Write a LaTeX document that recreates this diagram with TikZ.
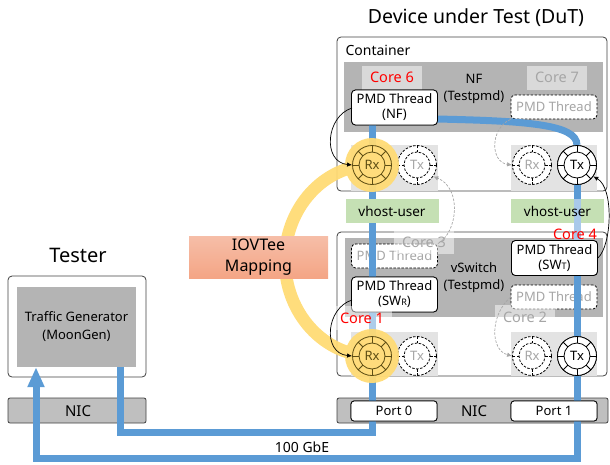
\documentclass[tikz,border=0pt]{standalone}
\usepackage{fontspec}
\setmainfont{Noto Sans}
\usetikzlibrary{arrows.meta}
\definecolor{frameline}{HTML}{404040}
\definecolor{areagray}{HTML}{B4B4B4}
\definecolor{portgray}{HTML}{E3E3E3}
\definecolor{nicgray}{HTML}{BFBFBF}
\definecolor{linkblue}{HTML}{5B9BD5}
\definecolor{paleblue}{HTML}{A9C9EA}
\definecolor{vhgreen}{HTML}{C5E0B4}
\definecolor{hiyellow}{HTML}{FFDB75}
\definecolor{olive}{HTML}{5E4E14}
\definecolor{idlegray}{HTML}{A6A6A6}
\definecolor{coreRed}{HTML}{FF0000}
\definecolor{salmonTop}{HTML}{F6BEA8}
\definecolor{salmonBot}{HTML}{F4A585}
\newcommand{\fs}[2]{\fontsize{#1pt}{#2pt}\selectfont}
\begin{document}
\begin{tikzpicture}[x=1pt,y=-1pt,
  frame/.style={draw=frameline,line width=0.8pt,rounded corners=4pt},
  area/.style={fill=areagray},
  pmd/.style={draw=black,fill=white,line width=0.8pt,rounded corners=4pt,
    minimum width=86pt,minimum height=35pt,inner sep=0pt,align=center,
    font={\fs{13}{15}}},
  pmdidle/.style={draw=black,fill=white,line width=0.8pt,rounded corners=4pt,
    dash pattern=on 2.5pt off 1.5pt,minimum width=86pt,minimum height=24pt,
    inner sep=0pt,text=idlegray,font={\fs{13}{15}}},
  coretag/.style={fill=white,fill opacity=0.5,text opacity=1,minimum width=60pt,
    minimum height=24pt,inner sep=0pt,font={\fs{14.5}{17}}},
  vhost/.style={fill=vhgreen,minimum width=93pt,minimum height=24pt,inner sep=0pt,
    font={\fs{13.5}{16}}},
  portbox/.style={draw=black,fill=white,line width=0.8pt,rounded corners=3pt,
    minimum width=86pt,minimum height=20pt,inner sep=0pt,font={\fs{13}{15}}},
  queue/.style={circle,draw=black,line width=0.8pt,fill=white,minimum size=39pt,
    inner sep=0pt,font={\fs{13}{15}},
    path picture={
      \draw[line width=0.8pt] (path picture bounding box.center) circle (13pt);
      \foreach \a in {0,45,...,315}
        \draw[line width=0.8pt] (path picture bounding box.center) ++(\a:13pt) -- ++(\a:7pt);
    }},
  queueidle/.style={circle,draw=black,line width=0.8pt,fill=white,minimum size=39pt,
    inner sep=0pt,font={\fs{13}{15}},text=idlegray,dash pattern=on 2.5pt off 1.5pt,
    path picture={
      \draw[line width=0.8pt,dash pattern=on 2.5pt off 1.5pt] (path picture bounding box.center) circle (13pt);
      \foreach \a in {0,90,180,270}
        \draw[line width=0.8pt] (path picture bounding box.center) ++(\a:13pt) -- ++(\a:7pt);
    }},
  queuehot/.style={circle,draw=olive,line width=0.8pt,minimum size=39pt,
    inner sep=0pt,font={\fs{13}{15}},text=olive,
    path picture={
      \draw[olive,line width=0.8pt] (path picture bounding box.center) circle (13pt);
      \foreach \a in {0,45,...,315}
        \draw[olive,line width=0.8pt] (path picture bounding box.center) ++(\a:13pt) -- ++(\a:7pt);
    }},
  link/.style={draw=linkblue,line width=7pt},
  handoff/.style={draw=black,line width=0.7pt,-{Latex[length=5pt,width=4.5pt]}},
  idlehandoff/.style={draw=idlegray,line width=0.7pt,dash pattern=on 2.5pt off 1.5pt,
    -{Latex[length=5pt,width=4.5pt]}},
  band/.style={draw=hiyellow,line width=12.5pt},
]
\useasboundingbox (0,0) rectangle (610,464);

% ---------- Device under Test ----------
\node[font={\fs{19.5}{23}}] (dut) at (476,18) {Device under Test (DuT)};

% container with the NF
\draw[frame] (337,37) rectangle (607,191);
\node[anchor=west,font={\fs{14}{16}}] (ctr) at (342,50) {Container};
\fill[area] (344,62) rectangle (603,132);
\node[coretag,text=coreRed] (c6) at (392,77.5) {Core 6};
\node[coretag,text=idlegray] (c7) at (557,77.5) {Core 7};
\node[align=center,font={\fs{13}{17}}] (nf) at (474,89) {NF\\(Testpmd)};
\node[pmdidle] (nfidle) at (554,107) {PMD Thread};
\fill[portgray] (351,145) rectangle (438,191);
\fill[portgray] (511,145) rectangle (597,191);

% vhost-user interfaces
\node[vhost] (vhL) at (392,211) {};
\node[vhost] (vhR) at (557.5,211) {};

% vSwitch
\draw[frame] (337,232) rectangle (607,376);
\fill[area] (345,238) rectangle (603,317);
\node[align=center,font={\fs{13}{17}}] (vsw) at (474,278) {vSwitch\\(Testpmd)};
\node[pmdidle] (swidleA) at (394.5,256) {PMD Thread};
\node[pmdidle] (swidleB) at (554,297) {PMD Thread};
\fill[portgray] (351,332) rectangle (438,376);
\fill[portgray] (511,332) rectangle (597,376);

% NIC of the DuT
\draw[draw=frameline,fill=nicgray,line width=0.8pt,rounded corners=2pt] (337,398) rectangle (608,423);
\node[font={\fs{15}{18}}] (nicR) at (474,411) {NIC};

% ---------- Tester ----------
\node[font={\fs{20}{24}}] (tst) at (78,255) {Tester};
\node[frame,minimum width=138pt,minimum height=101pt,inner sep=0pt] (tester) at (77,326.5) {};
\node[fill=areagray,minimum width=119pt,minimum height=80pt,inner sep=0pt,align=center,
  font={\fs{13}{18}}] (tg) at (76.5,327) {Traffic Generator\\(MoonGen)};
\draw[draw=frameline,fill=nicgray,line width=0.8pt,rounded corners=2pt] (8,398) rectangle (146,423);
\node[font={\fs{15}{18}}] (nicL) at (78,411) {NIC};

% queues
\node[queue] (rxT) at (372,165) {};
\node[queueidle] (txT) at (417,165) {Tx};
\node[queueidle] (rxTr) at (532,165) {Rx};
\node[queue] (txTr) at (577,165) {Tx};
\node[queue] (rxB) at (372,356) {};
\node[queueidle] (txB) at (417,356) {Tx};
\node[queueidle] (rxBr) at (532,356) {Rx};
\node[queue] (txBr) at (577,356) {Tx};

\node[pmd] (nfpmd) at (394.5,107.5) {PMD Thread\\(NF)};
\node[pmd] (swr) at (394.5,294.5) {PMD Thread\\(SW{\fs{9}{9}R})};
\node[pmd] (swt) at (554.5,258) {PMD Thread\\(SW{\fs{9}{9}T})};
\node[portbox] (p0) at (394,411) {Port 0};
\node[portbox] (p1) at (554,411) {Port 1};

% turning points of the 100 GbE cabling
\coordinate (inTurnR) at (372,432);
\coordinate (inTurnL) at (120,432);
\coordinate (outTurnR) at (577,458);
\coordinate (outTurnL) at (36,458);

% ---------- packet path ----------
\path[link] (nfpmd.south -| rxT) -- (rxT.north);
\path[link] (rxT.south) -- (swr.north -| rxT);
\path[link] (swr.south -| rxB) -- (rxB.north);
\path[link] (rxB.south) -- (inTurnR) -- (inTurnL) -- (inTurnL |- tg.south);
\path[link] (437,119) .. controls (525,121) and (577,124) .. (txTr.north);
\path[link] (txTr.south) -- (swt.north -| txTr);
\path[link] (swt.south -| txBr) -- (txBr.north);
\path[link,-{Triangle[length=20pt,width=16pt]}] (txBr.south) -- (outTurnR) -- (outTurnL) -- (outTurnL |- tg.south);

% parts that sit above the links
\node[vhost] at (vhL) {vhost-user};
\node[pmd] at (nfpmd) {PMD Thread\\(NF)};
\node[pmd] at (swr) {PMD Thread\\(SW{\fs{9}{9}R})};
\node[pmd] at (swt) {PMD Thread\\(SW{\fs{9}{9}T})};
\node[portbox] at (p0) {Port 0};
\node[portbox] at (p1) {Port 1};
\node[queue] at (rxT) {};
\node[queue] at (rxB) {};
\node[queue] at (txTr) {Tx};
\node[queue] at (txBr) {Tx};
\draw[paleblue,line width=7pt] (vhR.north -| txTr) -- (swt.north -| txTr);
\node[font={\fs{13.5}{16}}] at (vhR) {vhost-user};

\node[coretag,text=idlegray] (c3) at (424,242) {Core 3};
\node[coretag,text=coreRed] (c1) at (362,318) {Core 1};
\node[coretag,text=idlegray] (c2) at (525,317) {Core 2};
\node[font={\fs{14.5}{17}},text=coreRed,inner sep=0pt] (c4) at (575,234.5) {Core 4};

% ---------- IOVTee mapping ----------
\begin{scope}[transparency group,opacity=0.95]
  \fill[hiyellow] (rxT) circle (27pt);
  \fill[hiyellow] (rxB) circle (27pt);
  \draw[band] (rxT.center) arc[start angle=90,end angle=270,x radius=87pt,y radius=95.5pt];
\end{scope}
\node[queuehot] at (rxT) {Rx};
\node[queuehot] at (rxB) {Rx};
\node[top color=salmonTop,bottom color=salmonBot,minimum width=139pt,minimum height=42pt,
  inner sep=0pt,align=center,font={\fs{16}{21}}] (iov) at (258.5,257) {IOVTee\\Mapping};

% ---------- thread to queue hand-offs ----------
\draw[handoff] (352,108) .. controls (326,116) and (322,162) .. (rxT.west);
\draw[handoff] (352,300) .. controls (326,308) and (322,353) .. (rxB.west);
\draw[handoff] (swt.east) .. controls (612,245) and (614,188) .. (txTr.-35);
\draw[idlehandoff] (nfidle.south west) .. controls (490,128) and (490,162) .. (rxTr.west);
\draw[idlehandoff] (swidleB.west) .. controls (490,315) and (490,350) .. (rxBr.west);
\draw[idlehandoff] (swidleA.north east) .. controls (458,232) and (462,188) .. (txT.-35);

\node[font={\fs{14}{17}}] (gbe) at (302,447) {100 GbE};
\end{tikzpicture}
\end{document}
